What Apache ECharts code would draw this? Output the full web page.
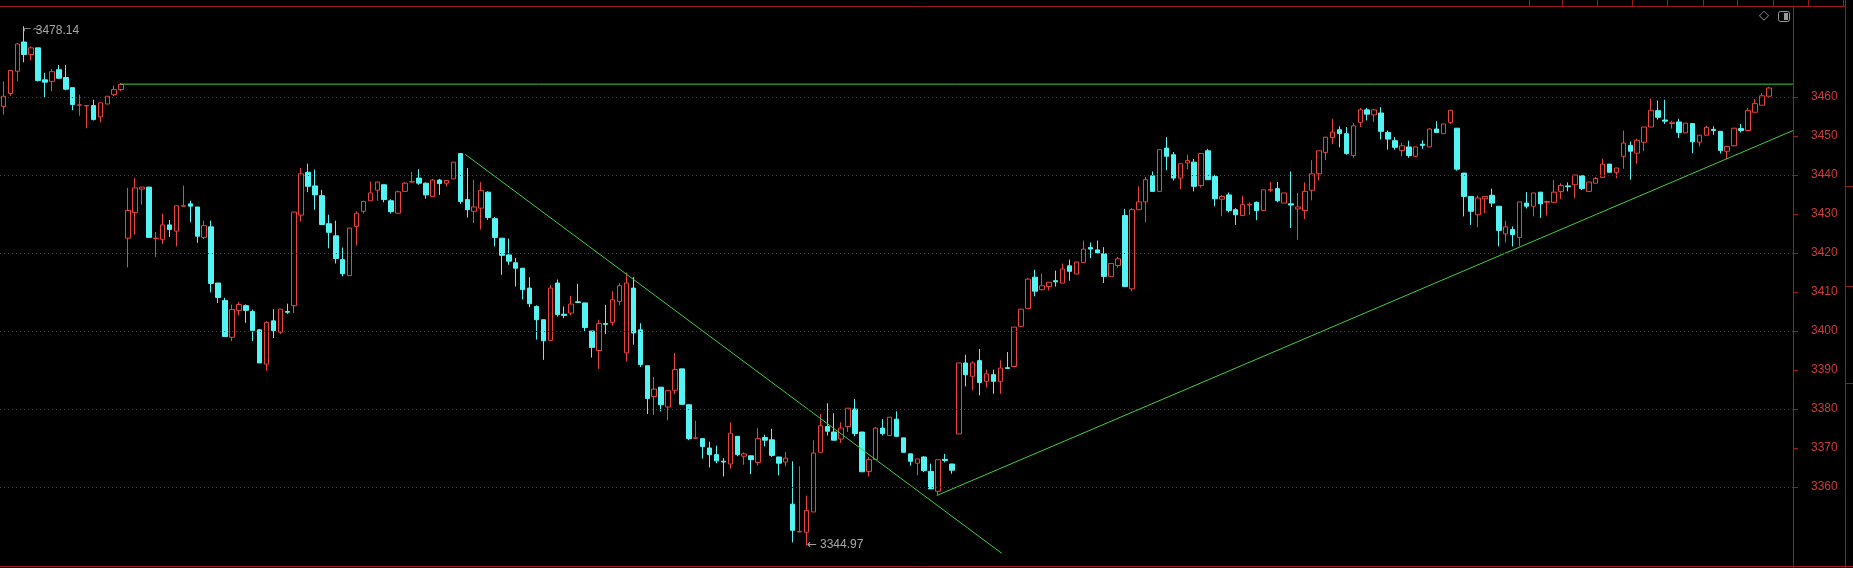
<!DOCTYPE html>
<html><head><meta charset="utf-8">
<script src="https://cdn.jsdelivr.net/npm/echarts@6/dist/echarts.min.js"></script>
<style>html,body{margin:0;padding:0;background:#000;overflow:hidden}#c{width:1853px;height:568px}</style>
</head><body><div id="c"></div>
<script>
// ---- data ----
const opens = [3457.6,3460.9,3466.6,3474.1,3470.9,3472.6,3464.4,3464.0,3467.0,3465.0,3462.4,3457.9,3457.7,3457.8,3454.9,3458.2,3460.6,3461.9,
3423.8,3430.4,3436.4,3436.9,3423.7,3423.5,3427.2,3425.6,3432.0,3432.6,3431.8,3424.0,3426.7,3412.3,3407.8,3398.4,3405.3,3406.5,3405.0,3400.3,3391.5,3402.6,
3399.7,3405.0,3406.5,3429.7,3440.7,3437.2,3434.7,3427.5,3424.4,3418.3,3414.2,3426.8,3430.7,3433.4,3436.1,3437.5,3433.4,3430.2,3435.8,3438.2,
3439.2,3437.9,3434.5,3438.7,3437.9,3439.0,3445.5,3433.7,3430.7,3431.5,3435.6,3428.8,3423.8,3419.5,3417.5,3416.1,3411.0,3406.3,3402.9,3397.6,
3412.3,3404.3,3404.6,3407.5,3407.2,3400.0,3395.0,3401.9,3402.2,3407.6,3394.4,3411.0,3400.3,3391.1,3383.2,3385.6,3380.5,3384.8,3390.3,3381.1,
3372.5,3372.4,3370.0,3368.3,3366.6,3365.9,3373.0,3367.9,3368.0,3366.3,3372.7,3372.1,3367.7,3366.4,3355.6,3348.5,3348.4,3353.6,3368.9,3375.5,
3374.1,3372.3,3375.5,3380.0,3374.1,3364.0,3367.0,3375.1,3373.2,3377.4,3372.6,3368.5,3366.1,3367.7,3364.0,3358.9,3367.1,3365.9,3373.6,3391.8,
3388.4,3392.4,3387.1,3388.8,3387.1,3390.6,3390.9,3401.2,3405.8,3413.8,3410.6,3411.4,3412.9,3412.3,3416.7,3414.6,3417.6,3421.4,3420.8,3419.8,
3414.0,3416.8,3429.6,3410.8,3431.1,3433.1,3439.8,3435.8,3446.9,3445.2,3439.2,3443.1,3443.3,3437.3,3446.2,3439.6,3433.8,3434.9,3431.1,3429.6,
3432.3,3433.0,3430.9,3436.1,3436.5,3432.8,3432.6,3431.3,3430.9,3436.1,3440.3,3445.8,3449.6,3451.6,3450.6,3445.0,3453.5,3456.7,3455.4,3455.9,
3450.9,3448.8,3446.3,3447.2,3444.8,3447.9,3447.2,3451.8,3450.6,3453.5,3452.0,3440.5,3434.5,3429.8,3433.9,3434.8,3432.0,3424.9,3426.0,3424.0,
3432.8,3432.0,3435.6,3433.0,3433.0,3435.8,3437.2,3437.5,3439.8,3435.8,3437.9,3439.4,3442.8,3440.7,3444.8,3447.6,3445.6,3448.4,3452.3,3456.5,
3454.1,3453.2,3453.6,3450.8,3453.2,3448.4,3450.2,3451.7,3451.2,3446.1,3447.5,3451.9,3451.4,3456.1,3457.9,3460.2];
const closes = [3460.2,3466.8,3473.6,3470.9,3472.6,3464.2,3463.8,3466.5,3464.8,3462.0,3458.1,3458.0,3457.8,3454.2,3458.5,3460.2,3461.9,3463.2,
3430.9,3436.7,3436.9,3424.0,3423.8,3427.2,3426.0,3432.1,3432.1,3432.0,3424.3,3427.0,3412.2,3408.6,3398.6,3405.5,3406.8,3405.3,3400.1,3391.8,3402.2,3400.1,
3405.6,3404.8,3430.5,3440.3,3437.1,3434.9,3427.3,3425.3,3418.6,3414.7,3426.4,3430.2,3433.2,3435.4,3438.2,3433.7,3430.6,3435.7,3437.9,3438.3,
3437.9,3434.9,3438.7,3437.8,3438.6,3443.3,3433.2,3431.1,3431.8,3436.0,3429.1,3424.0,3419.4,3417.9,3416.1,3410.6,3407.0,3402.9,3397.5,3411.0,
3404.2,3404.0,3406.9,3407.3,3400.9,3395.8,3401.9,3401.7,3408.0,3411.6,3412.3,3399.5,3391.4,3382.7,3385.1,3381.1,3384.7,3390.1,3381.2,3372.4,
3372.6,3370.4,3368.3,3366.7,3366.4,3373.8,3368.3,3368.5,3367.0,3372.4,3372.0,3368.1,3366.1,3367.4,3348.9,3348.6,3354.0,3368.7,3375.7,3374.3,
3372.0,3375.1,3380.2,3373.7,3363.9,3367.0,3375.1,3373.7,3377.9,3373.0,3368.9,3366.6,3367.2,3364.2,3359.5,3367.0,3366.8,3364.3,3391.8,3388.8,
3391.8,3386.8,3389.0,3387.1,3390.5,3390.4,3401.0,3405.6,3413.3,3410.2,3411.6,3412.5,3412.6,3415.9,3415.3,3417.7,3421.0,3421.0,3420.0,3414.0,
3417.3,3418.5,3411.4,3431.1,3433.1,3438.8,3435.8,3446.5,3444.8,3439.2,3442.9,3443.7,3437.1,3445.5,3438.8,3433.9,3434.5,3430.9,3429.8,3432.4,
3432.5,3430.9,3436.2,3436.3,3433.4,3435.4,3432.3,3431.8,3435.8,3440.3,3446.2,3449.7,3451.0,3450.6,3445.5,3452.6,3456.7,3455.6,3456.7,3451.2,
3449.2,3447.1,3447.5,3445.0,3447.2,3447.6,3451.8,3450.9,3453.1,3456.6,3441.5,3434.5,3430.7,3434.1,3434.5,3432.8,3425.8,3426.7,3424.7,3433.1,
3432.0,3435.4,3432.6,3433.2,3435.6,3437.3,3437.0,3440.0,3436.5,3438.2,3439.1,3442.8,3440.7,3441.8,3448.2,3446.1,3448.9,3452.3,3456.6,3454.8,
3453.8,3453.4,3450.9,3453.3,3448.5,3450.2,3452.2,3451.4,3446.3,3447.3,3452.0,3451.4,3456.5,3458.3,3460.3,3462.3];
const lows = [3455.5,3460.3,3464.0,3468.9,3469.4,3464.0,3460.0,3461.5,3464.8,3461.7,3456.6,3455.2,3452.0,3454.0,3453.5,3458.2,3460.2,3461.5,
3416.3,3424.7,3432.4,3424.0,3419.0,3422.3,3424.1,3421.7,3432.0,3427.9,3422.6,3423.6,3409.9,3407.2,3398.6,3397.4,3404.0,3402.1,3397.4,3391.8,3389.8,3398.2,
3399.2,3404.4,3404.6,3428.1,3435.6,3431.1,3427.3,3421.2,3417.3,3414.0,3414.2,3421.9,3430.1,3433.4,3433.4,3433.0,3430.1,3430.2,3435.8,3438.1,
3437.5,3433.9,3434.5,3434.9,3437.1,3439.0,3432.6,3429.1,3427.7,3426.0,3428.5,3421.7,3414.4,3417.0,3411.4,3408.1,3406.1,3397.8,3392.6,3397.6,
3403.7,3403.3,3404.0,3407.2,3399.9,3393.2,3390.3,3399.2,3401.4,3406.6,3392.2,3396.5,3390.8,3378.7,3378.5,3379.4,3377.1,3383.8,3381.2,3372.0,
3372.4,3367.3,3365.0,3366.1,3362.7,3364.7,3367.9,3365.7,3363.3,3365.5,3370.4,3367.7,3363.0,3365.3,3345.8,3348.4,3344.97,3353.6,3368.9,3373.2,
3372.0,3371.3,3374.1,3373.0,3363.9,3362.7,3367.0,3373.2,3373.2,3372.8,3368.9,3365.5,3363.0,3363.8,3359.5,3358.0,3366.3,3363.4,3373.6,3385.8,
3384.8,3383.5,3385.5,3383.9,3383.9,3390.3,3390.9,3401.2,3405.8,3408.9,3410.4,3410.4,3411.4,3412.3,3412.9,3414.6,3417.6,3418.7,3420.0,3412.3,
3414.0,3416.2,3411.4,3410.2,3431.1,3427.9,3435.8,3435.8,3441.2,3438.6,3436.4,3441.4,3435.8,3436.8,3438.8,3432.0,3429.4,3430.4,3427.2,3429.6,
3429.8,3428.4,3430.9,3435.6,3433.0,3432.8,3426.4,3423.4,3428.7,3433.5,3438.6,3443.8,3447.9,3447.1,3445.2,3444.4,3452.3,3454.0,3453.6,3449.1,
3446.5,3446.5,3444.8,3444.4,3444.6,3446.7,3447.2,3450.9,3450.5,3453.1,3441.1,3429.4,3427.2,3426.6,3430.2,3431.8,3421.7,3422.7,3421.7,3421.7,
3431.4,3429.4,3429.0,3429.6,3432.8,3433.8,3435.8,3434.1,3436.1,3435.8,3437.9,3439.2,3440.7,3439.2,3441.6,3438.8,3442.9,3446.1,3452.3,3454.2,
3453.1,3451.9,3449.5,3450.8,3445.6,3447.3,3450.2,3450.3,3445.5,3444.1,3447.3,3450.9,3451.2,3456.1,3457.9,3460.2];
const highs = [3464.0,3466.9,3473.8,3478.14,3473.0,3472.6,3466.2,3467.2,3468.2,3468.2,3462.4,3460.6,3457.8,3459.3,3458.5,3460.2,3462.9,3463.6,
3436.7,3439.2,3436.9,3436.9,3425.4,3430.0,3428.5,3432.1,3437.3,3433.4,3431.8,3428.3,3428.3,3412.3,3408.5,3406.8,3407.4,3406.8,3405.5,3400.5,3402.5,3405.6,
3405.6,3407.0,3430.5,3441.8,3442.9,3441.4,3436.2,3429.8,3428.3,3421.4,3426.4,3430.7,3433.4,3438.3,3438.2,3437.5,3433.8,3436.0,3438.2,3440.8,
3441.5,3438.1,3439.0,3439.0,3438.6,3443.3,3445.5,3441.8,3438.8,3438.2,3435.8,3429.2,3423.8,3423.7,3418.7,3416.1,3413.8,3406.6,3402.9,3411.8,
3413.2,3406.3,3409.0,3412.1,3407.2,3400.0,3402.9,3406.7,3410.2,3412.3,3415.0,3413.8,3402.0,3391.1,3388.2,3385.6,3384.7,3394.4,3390.3,3381.1,
3377.0,3372.4,3371.6,3370.6,3367.4,3376.6,3373.0,3368.9,3368.0,3375.1,3373.4,3374.9,3367.7,3369.0,3366.6,3365.3,3357.8,3372.0,3378.7,3381.5,
3378.9,3376.6,3380.2,3382.6,3374.1,3367.7,3375.4,3377.4,3377.9,3379.4,3372.6,3368.5,3367.2,3367.9,3366.0,3367.0,3368.5,3365.9,3391.8,3393.9,
3392.2,3395.4,3390.1,3390.1,3392.5,3394.6,3401.0,3405.6,3413.6,3415.7,3414.7,3412.5,3415.5,3417.3,3418.3,3417.7,3423.2,3422.7,3423.2,3421.5,
3417.3,3419.0,3431.3,3431.5,3437.1,3439.5,3440.9,3446.5,3449.7,3445.9,3442.9,3445.2,3444.1,3445.5,3446.7,3440.1,3434.9,3435.5,3431.5,3434.7,
3433.0,3433.2,3436.2,3438.2,3438.2,3435.4,3440.9,3435.4,3438.1,3443.8,3446.2,3449.7,3454.4,3452.5,3452.3,3453.3,3457.2,3457.2,3457.0,3457.4,
3451.4,3449.7,3448.2,3448.8,3447.2,3448.9,3452.0,3453.8,3453.1,3456.7,3452.0,3440.5,3434.5,3434.7,3434.5,3436.5,3432.0,3428.3,3426.8,3433.1,
3435.6,3435.4,3435.6,3433.4,3438.8,3437.9,3438.1,3440.0,3439.8,3438.2,3439.5,3444.2,3442.8,3441.8,3451.4,3448.6,3449.3,3452.3,3459.6,3459.1,
3459.3,3453.9,3454.4,3453.3,3453.3,3450.2,3452.6,3452.5,3451.2,3447.3,3452.0,3453.1,3457.2,3459.5,3461.0,3462.6];

// category slots (256 sessions + empty room at the right edge)
const slotCount = 259;
const categories = Array.from({length: slotCount}, (_, i) => String(i + 1));
// y axis ticks / labels
const tickLabels = [3360,3370,3380,3390,3400,3410,3420,3430,3440,3450,3460];
const gridLevels = [3360,3380,3400,3420,3440,3460];
// drawn trend lines: [sessionIndex, price]
const levelLine = [[16.9, 3463.3],[258.5, 3463.3]];
const downTrend = [[66.7, 3445.3],[144.2, 3343.0]];
const upTrend = [[134.8, 3357.8],[258.5, 3451.4]];
// annotations
const peakPoint = [3, 3478.14];
const troughPoint = [116, 3344.97];

const candles = opens.map((o, i) => [o, closes[i], lows[i], highs[i]]);

const RED = '#e8433c', CYAN = '#54f4f4', FRAME = '#9b1b1b', GREEN = '#3fcf3f';

const headerSeps = [1529,1562,1597,1632,1667,1703,1737,1773,1808,1843];
const graphics = [
  {type:'line', shape:{x1:0,y1:6.5,x2:1845,y2:6.5}, style:{stroke:FRAME,lineWidth:1}},
  {type:'line', shape:{x1:0,y1:566.5,x2:1853,y2:566.5}, style:{stroke:FRAME,lineWidth:1}},
  {type:'line', shape:{x1:1793.5,y1:6,x2:1793.5,y2:568}, style:{stroke:FRAME,lineWidth:1}},
  {type:'line', shape:{x1:1845.5,y1:0,x2:1845.5,y2:568}, style:{stroke:FRAME,lineWidth:1}},
  {type:'line', shape:{x1:1845,y1:186.5,x2:1853,y2:186.5}, style:{stroke:FRAME,lineWidth:1}},
  {type:'line', shape:{x1:1845,y1:286.5,x2:1853,y2:286.5}, style:{stroke:FRAME,lineWidth:1}},
  {type:'line', shape:{x1:1845,y1:383.5,x2:1853,y2:383.5}, style:{stroke:FRAME,lineWidth:1}},
  {type:'text', left:1759, top:9, style:{text:'◇', fill:'#9a9a9a', font:'13px "DejaVu Sans"'}},
  {type:'rect', shape:{x:1778.5,y:11.5,width:11,height:10,r:2}, style:{stroke:'#9a9a9a',fill:'none',lineWidth:1}},
  {type:'rect', shape:{x:1784,y:13,width:4,height:7}, style:{fill:'#9a9a9a'}}
].concat(headerSeps.map(x => ({type:'line', shape:{x1:x+0.5,y1:0,x2:x+0.5,y2:6}, style:{stroke:FRAME,lineWidth:1}})));

const chart = echarts.init(document.getElementById('c'), null, {renderer:'canvas'});
chart.setOption({
  animation: false,
  backgroundColor: '#000',
  grid: {left: 0, right: 60, top: 19, height: 546, containLabel: false},
  xAxis: [
    {type:'category', data: categories, boundaryGap: true, show: false},
    {type:'value', min: -0.5, max: slotCount - 0.5, show: false}
  ],
  yAxis: {
    type:'value', position:'right', min: 3340, max: 3480, interval: 10,
    axisLine: {show: false, onZero: false},
    axisTick: {show: true, length: 5, inside: false, lineStyle: {color: FRAME}, customValues: tickLabels},
    axisLabel: {color: '#cc3b3b', fontSize: 12, fontFamily: '"Liberation Sans", Arial, sans-serif', margin: 18,
      customValues: tickLabels,
      formatter: v => (v >= 3360 && v <= 3460) ? String(v) : ''},
    splitLine: {show: false}
  },
  graphic: graphics,
  series: [
    {
      type: 'candlestick', xAxisIndex: 0, data: candles, barWidth: 5,
      itemStyle: {color: '#000', color0: CYAN, borderColor: RED, borderColor0: CYAN, borderWidth: 1},
      markLine: {
        silent: true, symbol: ['none','none'], label: {show: false},
        lineStyle: {color: '#8a2222', type: [1, 3], width: 1},
        data: gridLevels.map(v => ({yAxis: v}))
      },
      z: 2
    },
    {type:'line', xAxisIndex:1, data: levelLine, symbol:'none', lineStyle:{color: GREEN, width:1}, z:3},
    {type:'line', xAxisIndex:1, data: downTrend, symbol:'none', lineStyle:{color: GREEN, width:1}, z:3},
    {type:'line', xAxisIndex:1, data: upTrend, symbol:'none', lineStyle:{color: GREEN, width:1}, z:3},
    {type:'scatter', xAxisIndex:1, data:[peakPoint], symbolSize:1, itemStyle:{color:'rgba(0,0,0,0)'}, z:4,
      label:{show:true, position:'right', distance:0, offset:[-2, 4],
        formatter: p => '{a|⌐~}{b|' + p.value[1].toFixed(2) + '}',
        rich:{a:{color:'#c8c8c8', fontSize:11, width:13, fontFamily:'"DejaVu Sans"'},
              b:{color:'#d0d0d0', fontSize:12, fontFamily:'"Liberation Sans", Arial, sans-serif'}}}},
    {type:'scatter', xAxisIndex:1, data:[troughPoint], symbolSize:1, itemStyle:{color:'rgba(0,0,0,0)'}, z:4,
      label:{show:true, position:'right', distance:0, offset:[0, -1],
        formatter: p => '{a|←}{b|' + p.value[1].toFixed(2) + '}',
        rich:{a:{color:'#c8c8c8', fontSize:12, width:13, fontFamily:'"DejaVu Sans"'},
              b:{color:'#d0d0d0', fontSize:12, fontFamily:'"Liberation Sans", Arial, sans-serif'}}}}
  ]
});
</script></body></html>
